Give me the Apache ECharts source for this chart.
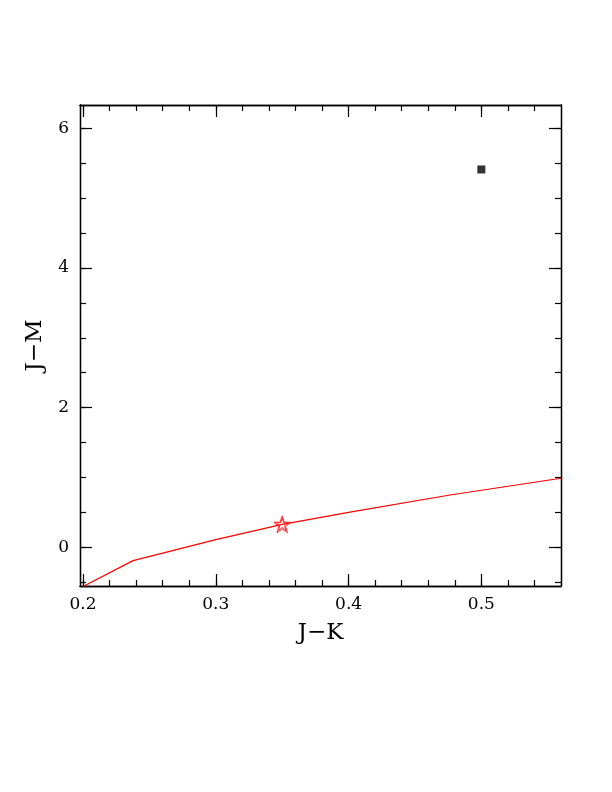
<!DOCTYPE html>
<html><head><meta charset="utf-8">
<script src="https://cdn.jsdelivr.net/npm/echarts@6/dist/echarts.min.js"></script>
<style>html,body{margin:0;padding:0;background:#fff}#c{width:612px;height:792px}</style>
</head><body><div id="c"></div>
<script>
// data
var trackJK = [0.2, 0.2377, 0.30, 0.35, 0.40, 0.4764, 0.56];
var trackJM = [-0.56, -0.19, 0.11, 0.33, 0.50, 0.75, 0.99];
var starJK = [0.35];
var starJM = [0.33];
var objJK = [0.5];
var objJM = [5.41];
var xMajor = [0.2, 0.3, 0.4, 0.5];
var xMinor = [0.2, 0.22, 0.24, 0.26, 0.28, 0.3, 0.32, 0.34, 0.36, 0.38, 0.4, 0.42, 0.44, 0.46, 0.48, 0.5, 0.52, 0.54];
var yMajor = [0, 2, 4, 6];
var yMinor = [-0.5, 0, 0.5, 1, 1.5, 2, 2.5, 3, 3.5, 4, 4.5, 5, 5.5, 6];

var XMIN = 0.1977, XMAX = 0.56, YMIN = -0.553, YMAX = 6.333;
var font = '"DejaVu Serif","Liberation Serif",serif';
var lineStyle = {color: '#000', width: 1.3};

function xAx(pos, ticks, len, showLabel, name) {
  return {
    type: 'value', position: pos, min: XMIN, max: XMAX, gridIndex: 0,
    axisLine: {show: true, onZero: false, lineStyle: lineStyle},
    axisTick: {show: true, inside: true, length: len, customValues: ticks, lineStyle: {color: '#000', width: 1.2}},
    axisLabel: {show: showLabel, customValues: xMajor, margin: 10, color: '#000', fontFamily: font, fontSize: 17,
      formatter: function (v) { return v.toFixed(1); }},
    splitLine: {show: false},
    name: name || '', nameLocation: 'middle', nameGap: 36,
    nameTextStyle: {color: '#000', fontFamily: font, fontSize: 23}
  };
}
function yAx(pos, ticks, len, showLabel, name) {
  return {
    type: 'value', position: pos, min: YMIN, max: YMAX, gridIndex: 0,
    axisLine: {show: true, onZero: false, lineStyle: lineStyle},
    axisTick: {show: true, inside: true, length: len, customValues: ticks, lineStyle: {color: '#000', width: 1.2}},
    axisLabel: {show: showLabel, customValues: yMajor, margin: 11, color: '#000', fontFamily: font, fontSize: 17,
      formatter: function (v) { return String(Math.round(v)); }},
    splitLine: {show: false},
    name: name || '', nameLocation: 'middle', nameGap: 33, nameRotate: 90,
    nameTextStyle: {color: '#000', fontFamily: font, fontSize: 23}
  };
}

var chart = echarts.init(document.getElementById('c'), null, {renderer: 'canvas'});
var starPath = 'path://M0,-10 L2.35,-3.24 L9.51,-3.09 L3.8,1.24 L5.88,8.09 L0,4 L-5.88,8.09 L-3.8,1.24 L-9.51,-3.09 L-2.35,-3.24 Z';
chart.setOption({
  animation: false,
  grid: {left: 80, top: 105, width: 481, height: 481},
  xAxis: [
    xAx('bottom', xMajor, 12, true, 'J\u2212K'),
    xAx('bottom', xMinor, 6, false),
    xAx('top', xMajor, 12, false),
    xAx('top', xMinor, 6, false)
  ],
  yAxis: [
    yAx('left', yMajor, 12, true, 'J\u2212M'),
    yAx('left', yMinor, 6, false),
    yAx('right', yMajor, 12, false),
    yAx('right', yMinor, 6, false)
  ],
  series: [
    {type: 'line', xAxisIndex: 0, yAxisIndex: 0, showSymbol: false, smooth: false,
      data: trackJK.map(function (x, i) { return [x, trackJM[i]]; }),
      lineStyle: {color: '#ff0000', width: 1.2}, clip: true},
    {type: 'scatter', xAxisIndex: 0, yAxisIndex: 0, symbol: starPath, symbolSize: 17,
      data: starJK.map(function (x, i) { return [x, starJM[i]]; }),
      itemStyle: {color: 'rgba(255,255,255,0)', borderColor: '#ff0000', borderWidth: 1}, z: 5},
    {type: 'scatter', xAxisIndex: 0, yAxisIndex: 0, symbol: starPath, symbolSize: 12,
      data: starJK.map(function (x, i) { return [x, starJM[i]]; }),
      itemStyle: {color: 'rgba(255,255,255,0)', borderColor: '#ff0000', borderWidth: 1}, z: 5},
    {type: 'scatter', xAxisIndex: 0, yAxisIndex: 0, symbol: 'rect', symbolSize: 8,
      data: objJK.map(function (x, i) { return [x, objJM[i]]; }),
      itemStyle: {color: '#000'}}
  ]
});
</script></body></html>
